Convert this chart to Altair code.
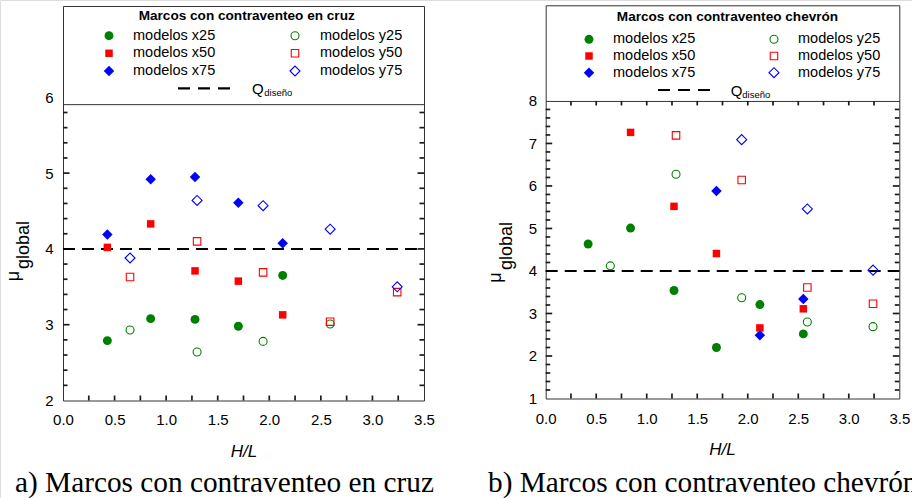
import altair as alt
import pandas as pd

W, H = 912, 498
SANS = "Liberation Sans"
SERIF = "Liberation Serif"
INK = "#1a1a1a"
GREEN, RED, BLUE = "#008000", "#ff0000", "#0000ff"

q_diseno = 4.0
X_DOMAIN = [0.0, 3.5]
x_labels = [0.0, 0.5, 1.0, 1.5, 2.0, 2.5, 3.0, 3.5]
x_minor = [0.25, 0.5, 0.75, 1.0, 1.25, 1.5, 1.75, 2.0, 2.25, 2.5, 2.75, 3.0, 3.25]

# ---- cross-braced frames (H/L, global ductility) ----
cruz_x25_hl = [0.43, 0.85, 1.28, 1.70, 2.13]
cruz_x25_mu = [2.79, 3.08, 3.07, 2.98, 3.65]
cruz_x50_hl = [0.43, 0.85, 1.28, 1.70, 2.13]
cruz_x50_mu = [4.02, 4.33, 3.71, 3.575, 3.13]
cruz_x75_hl = [0.43, 0.85, 1.28, 1.70, 2.13]
cruz_x75_mu = [4.19, 4.92, 4.95, 4.61, 4.075]
cruz_y25_hl = [0.65, 1.30, 1.94, 2.59]
cruz_y25_mu = [2.93, 2.64, 2.78, 3.01]
cruz_y50_hl = [0.65, 1.30, 1.94, 2.59, 3.24]
cruz_y50_mu = [3.63, 4.10, 3.69, 3.04, 3.43]
cruz_y75_hl = [0.65, 1.30, 1.94, 2.59, 3.24]
cruz_y75_mu = [3.88, 4.64, 4.57, 4.26, 3.50]

# ---- chevron-braced frames ----
chev_x25_hl = [0.42, 0.84, 1.27, 1.69, 2.12, 2.55]
chev_x25_mu = [4.635, 5.01, 3.54, 2.20, 3.21, 2.52]
chev_x50_hl = [0.84, 1.27, 1.69, 2.12, 2.55]
chev_x50_mu = [7.26, 5.52, 4.41, 2.66, 3.11]
chev_x75_hl = [1.69, 2.12, 2.55]
chev_x75_mu = [5.88, 2.49, 3.34]
chev_y25_hl = [0.64, 1.29, 1.94, 2.59, 3.24]
chev_y25_mu = [4.12, 6.275, 3.37, 2.80, 2.69]
chev_y50_hl = [1.29, 1.94, 2.59, 3.24]
chev_y50_mu = [7.19, 6.14, 3.61, 3.23]
chev_y75_hl = [1.94, 2.59, 3.24]
chev_y75_mu = [7.09, 5.46, 4.02]

# key, legend label, shape, colour, filled, size
SERIES = [
    ("x25", "modelos x25", "circle", GREEN, True, 80),
    ("x50", "modelos x50", "square", RED, True, 56),
    ("x75", "modelos x75", "diamond", BLUE, True, 110),
    ("y25", "modelos y25", "circle", GREEN, False, 64),
    ("y50", "modelos y50", "square", RED, False, 56),
    ("y75", "modelos y75", "diamond", BLUE, False, 100),
]

PANELS = [
    dict(
        series={
            "x25": (cruz_x25_hl, cruz_x25_mu), "x50": (cruz_x50_hl, cruz_x50_mu),
            "x75": (cruz_x75_hl, cruz_x75_mu), "y25": (cruz_y25_hl, cruz_y25_mu),
            "y50": (cruz_y50_hl, cruz_y50_mu), "y75": (cruz_y75_hl, cruz_y75_mu),
        },
        title="Marcos con contraventeo en cruz",
        caption="a) Marcos con contraventeo en cruz",
        xr=[63, 424], yd=[2.0, 7.205], yr=[400.5, 6.0], sep=5.91, sep_ticks=False,
        y_labels=[2, 3, 4, 5, 6],
        y_major=[3, 4, 5],
        y_minor=[2.2, 2.4, 2.6, 2.8, 3.2, 3.4, 3.6, 3.8, 4.2, 4.4, 4.6, 4.8,
                 5.2, 5.4, 5.6, 5.8],
        xpad=11.5, ypad=10,
        leg=dict(tx=246.7, ty=15.7, rows=[35.7, 53.3, 71.0], qy=88.3,
                 c1=109, l1=133, c2=295, l2=320, d0=178, d1=230, qx=252, sx=264.3),
        hl_pos=(244, 451.7), mu_pos=(13.5, 276), glob_pos=(24, 245), cap_x=15,
    ),
    dict(
        series={
            "x25": (chev_x25_hl, chev_x25_mu), "x50": (chev_x50_hl, chev_x50_mu),
            "x75": (chev_x75_hl, chev_x75_mu), "y25": (chev_y25_hl, chev_y25_mu),
            "y50": (chev_y50_hl, chev_y50_mu), "y75": (chev_y75_hl, chev_y75_mu),
        },
        title="Marcos con contraventeo chevrón",
        caption="b) Marcos con contraventeo chevrón",
        xr=[545.7, 899.3], yd=[1.0, 10.25], yr=[398.5, 5.3], sep=8.0, sep_ticks=True,
        y_labels=[1, 2, 3, 4, 5, 6, 7, 8],
        y_major=[2, 3, 4, 5, 6, 7],
        y_minor=[v / 10 for v in range(12, 80, 2) if v % 10],
        xpad=12.5, ypad=9,
        leg=dict(tx=727.5, ty=17.3, rows=[39.3, 56.0, 72.7], qy=90.0,
                 c1=589, l1=613, c2=774, l2=798, d0=658, d1=710, qx=730.7, sx=742.3),
        hl_pos=(722.5, 450), mu_pos=(496, 277.5), glob_pos=(506.5, 246), cap_x=488,
    ),
]

one = pd.DataFrame({"k": [0]})


def to_px(v, dom, rng):
    return rng[0] + (v - dom[0]) / (dom[1] - dom[0]) * (rng[1] - rng[0])


def axis(**kw):
    base = dict(grid=False, title=None, domainColor="#333333", domainWidth=1,
                ticks=False, tickSize=0, labelFont=SANS, labelFontSize=15,
                labelColor="#000000", labelFlush=False)
    base.update(kw)
    return alt.Axis(**base)


def carrier(df, xs, ys, xaxis, yaxis):
    return alt.Chart(df).mark_point(opacity=0).encode(
        x=alt.X("hl:Q", scale=xs, axis=xaxis),
        y=alt.Y("mu:Q", scale=ys, axis=yaxis),
    )


def text(x, y, s, **kw):
    return alt.Chart(one).mark_text(text=s, **kw).encode(
        x=alt.value(x), y=alt.value(y))


def tick_rules(df, xs, ys):
    """Short inward tick segments, each running from (a, b) to (a2, b2)."""
    return alt.Chart(df).mark_rule(color=INK, strokeWidth=1.7).encode(
        x=alt.X("a:Q", scale=xs, axis=None), x2="a2:Q",
        y=alt.Y("b:Q", scale=ys, axis=None), y2="b2:Q")


def panel_layers(p):
    xs = alt.Scale(domain=X_DOMAIN, range=p["xr"], nice=False, zero=False)
    ys = alt.Scale(domain=p["yd"], range=p["yr"], nice=False, zero=False)
    xl, xr = p["xr"]
    yb, yt = p["yr"]
    ysep = to_px(p["sep"], p["yd"], p["yr"])
    # tick lengths in data units (pixels divided by pixels-per-unit)
    ux = (xr - xl) / (X_DOMAIN[1] - X_DOMAIN[0])
    uy = (yb - yt) / (p["yd"][1] - p["yd"][0])

    all_pts = pd.concat(
        [pd.DataFrame({"hl": hl, "mu": mu}) for hl, mu in p["series"].values()],
        ignore_index=True,
    )

    layers = []

    # frame: tick labels plus the four edges and the legend separator
    layers.append(carrier(
        all_pts, xs, ys,
        axis(orient="bottom", offset=yb - H, values=x_labels, format=".1f",
             labelPadding=p["xpad"]),
        axis(orient="left", offset=-xl, values=p["y_labels"], format="d",
             labelPadding=p["ypad"]),
    ))
    layers.append(carrier(
        all_pts, xs, ys,
        axis(orient="top", offset=-yt, values=x_labels, labels=False),
        axis(orient="left", offset=-xr, values=p["y_major"], labels=False),
    ))
    layers.append(carrier(
        all_pts, xs, ys,
        axis(orient="bottom", offset=ysep - H, values=x_labels, labels=False),
        None,
    ))

    # inward ticks on all edges
    x0, x1 = X_DOMAIN
    y0 = p["yd"][0]
    rows = []
    for v in p["y_major"]:
        rows.append((x0, x0 + 6.5 / ux, v, v))
        rows.append((x1 - 6.5 / ux, x1, v, v))
    for v in p["y_minor"]:
        rows.append((x0, x0 + 4.5 / ux, v, v))
        rows.append((x1 - 4.5 / ux, x1, v, v))
    for v in x_minor:
        rows.append((v, v, y0, y0 + 5 / uy))
        if p["sep_ticks"]:
            rows.append((v, v, p["sep"] - 4.5 / uy, p["sep"]))
    ticks_df = pd.DataFrame(rows, columns=["a", "a2", "b", "b2"])
    layers.append(tick_rules(ticks_df, xs, ys))

    # design ductility reference line
    qdf = pd.DataFrame({"hl": [X_DOMAIN[0]], "hl2": [X_DOMAIN[1]], "mu": [q_diseno]})
    layers.append(
        alt.Chart(qdf).mark_rule(color="#000000", strokeWidth=2, strokeDash=[12, 7]).encode(
            x=alt.X("hl:Q", scale=xs, axis=None), x2="hl2:Q",
            y=alt.Y("mu:Q", scale=ys, axis=None))
    )

    # data series
    for key, label, shape, color, filled, size in SERIES:
        hl, mu = p["series"][key]
        df = pd.DataFrame({"hl": hl, "mu": mu})
        layers.append(
            alt.Chart(df).mark_point(shape=shape, filled=filled, size=size, color=color,
                                     opacity=1, strokeWidth=1.1).encode(
                x=alt.X("hl:Q", scale=xs, axis=None),
                y=alt.Y("mu:Q", scale=ys, axis=None))
        )

    # legend box contents
    lg = p["leg"]
    layers.append(text(lg["tx"], lg["ty"], p["title"], font=SANS, fontSize=13.6,
                       fontWeight="bold", align="center", baseline="middle"))
    for i, (key, label, shape, color, filled, size) in enumerate(SERIES):
        col = i // 3
        row = i % 3
        sx = lg["c1"] if col == 0 else lg["c2"]
        tx = lg["l1"] if col == 0 else lg["l2"]
        y = lg["rows"][row]
        layers.append(
            alt.Chart(one).mark_point(shape=shape, filled=filled, size=size, color=color,
                                      opacity=1, strokeWidth=1.1).encode(
                x=alt.value(sx), y=alt.value(y))
        )
        layers.append(text(tx, y, label, font=SANS, fontSize=14.5, align="left",
                           baseline="middle"))
    layers.append(
        alt.Chart(one).mark_rule(color="#000000", strokeWidth=2.2, strokeDash=[12, 8]).encode(
            x=alt.value(lg["d0"]), x2=alt.value(lg["d1"]), y=alt.value(lg["qy"]))
    )
    layers.append(text(lg["qx"], lg["qy"] + 5.5, "Q", font=SANS, fontSize=15,
                       align="left", baseline="alphabetic"))
    layers.append(text(lg["sx"], lg["qy"] + 8, "diseño", font=SANS, fontSize=9.5,
                       align="left", baseline="alphabetic"))

    # axis titles
    hx, hy = p["hl_pos"]
    layers.append(text(hx, hy, "H/L", font=SANS, fontSize=17, fontStyle="italic",
                       align="center", baseline="middle"))
    mx, my = p["mu_pos"]
    layers.append(text(mx, my, "μ", font=SANS, fontSize=18, angle=270,
                       align="center", baseline="middle"))
    gx, gy = p["glob_pos"]
    layers.append(text(gx, gy, "global", font=SANS, fontSize=18, angle=270,
                       align="center", baseline="middle"))

    # caption
    layers.append(text(p["cap_x"], 491.7, p["caption"], font=SERIF, fontSize=29.3,
                       align="left", baseline="alphabetic"))
    return layers


all_layers = []
for panel in PANELS:
    all_layers.extend(panel_layers(panel))

chart = (
    alt.layer(*all_layers)
    .resolve_scale(x="independent", y="independent")
    .resolve_axis(x="independent", y="independent")
    .properties(width=W, height=H, padding=0,
                autosize=alt.AutoSizeParams(type="none"))
    .configure_view(stroke=None)
    .configure(background="#ffffff")
)

chart.save("out.html", embed_options={"renderer": "svg", "actions": False})
